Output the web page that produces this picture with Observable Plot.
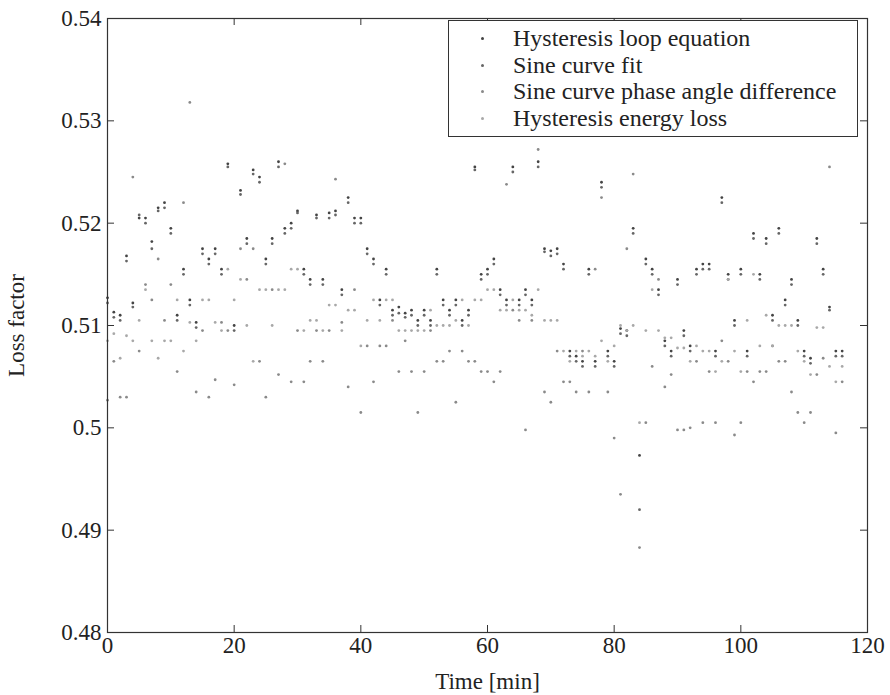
<!DOCTYPE html>
<html><head><meta charset="utf-8">
<script src="https://cdn.jsdelivr.net/npm/d3@7"></script>
<script src="https://cdn.jsdelivr.net/npm/@observablehq/plot@0.6"></script>
<style>
body{margin:0;background:#fff;}
#wrap{position:relative;width:890px;height:695px;font-family:"Times New Roman","Liberation Serif",serif;}
#legend{position:absolute;left:448px;top:20px;width:410px;height:117px;border:1px solid #333;background:#fff;box-sizing:border-box;}
.li{position:absolute;left:64px;font-size:24px;color:#222;white-space:nowrap;line-height:24px;}
.mk{position:absolute;left:32px;width:3px;height:3px;border-radius:50%;}
</style></head>
<body><div id="wrap"></div>
<script>
const minutes = d3.range(0, 117);
const seriesNames = ["Hysteresis loop equation","Sine curve fit","Sine curve phase angle difference","Hysteresis energy loss"];
const seriesColors = ["#444","#666","#8a8a8a","#a8a8a8"];
const hysteresisLoop = [.5127,.5113,.5110,.5168,.5122,.5205,.5205,.5182,.5215,.5220,
.5195,.5110,.5155,.5125,.5103,.5175,.5165,.5175,.5155,.5258,
.5100,.5232,.5185,.5252,.5245,.5165,.5185,.5260,.5195,.5200,
.5212,.5155,.5145,.5208,.5145,.5210,.5212,.5135,.5225,.5205,
.5205,.5175,.5165,.5125,.5155,.5115,.5118,.5112,.5115,.5105,
.5115,.5105,.5155,.5125,.5115,.5125,.5105,.5115,.5255,.5150,
.5155,.5165,.5135,.5125,.5255,.5125,.5135,.5125,.5260,.5175,
.5173,.5175,.5160,.5075,.5070,.5065,.5155,.5065,.5240,.5075,
.5065,.5097,.5095,.5195,.4973,.5165,.5155,.5135,.5085,.5075,
.5145,.5095,.5080,.5155,.5160,.5160,.5075,.5225,.5150,.5105,
.5155,.5075,.5190,.5150,.5185,.5110,.5195,.5125,.5145,.5105,
.5075,.5068,.5185,.5155,.5118,.5075,.5075];
const sineFit = [.5122,.5108,.5105,.5163,.5118,.5208,.5200,.5175,.5212,.5215,
.5190,.5105,.5150,.5120,.5098,.5170,.5160,.5170,.5150,.5255,
.5095,.5228,.5180,.5248,.5240,.5160,.5180,.5255,.5190,.5195,
.5210,.5150,.5140,.5205,.5140,.5205,.5208,.5130,.5220,.5200,
.5200,.5170,.5160,.5120,.5150,.5110,.5112,.5108,.5110,.5100,
.5110,.5100,.5150,.5120,.5110,.5120,.5100,.5110,.5252,.5145,
.5150,.5160,.5130,.5120,.5250,.5120,.5130,.5120,.5255,.5172,
.5168,.5170,.5155,.5070,.5065,.5060,.5150,.5060,.5235,.5070,
.5060,.5092,.5090,.5190,.4920,.5160,.5150,.5130,.5080,.5070,
.5140,.5090,.5075,.5150,.5155,.5155,.5070,.5220,.5145,.5100,
.5150,.5070,.5185,.5145,.5180,.5105,.5190,.5120,.5140,.5100,
.5070,.5063,.5180,.5150,.5115,.5070,.5070];
const phaseAngle = [.5027,.5065,.5030,.5030,.5245,.5075,.5140,.5125,.5165,.5105,
.5140,.5055,.5220,.5318,.5035,.5095,.5030,.5047,.5103,.5095,
.5042,.5175,.5145,.5175,.5065,.5030,.5135,.5052,.5258,.5045,
.5095,.5045,.5065,.5095,.5065,.5095,.5243,.5103,.5040,.5135,
.5015,.5080,.5045,.5080,.5080,.5105,.5055,.5085,.5055,.5015,
.5055,.5095,.5065,.5065,.5075,.5025,.5075,.5065,.5065,.5055,
.5055,.5045,.5055,.5238,.5115,.5105,.4998,.5105,.5272,.5035,
.5025,.5075,.5045,.5045,.5035,.5075,.5035,.5155,.5225,.5035,
.4990,.4935,.5175,.5248,.4883,.5005,.5060,.5145,.5040,.5052,
.4998,.4998,.5000,.5065,.5005,.5055,.5005,.5085,.5065,.4993,
.5005,.5055,.5045,.5055,.5055,.5080,.5065,.5065,.5035,.5015,
.5005,.5015,.5052,.5068,.5255,.4995,.5045];
const energyLoss = [.5085,.5092,.5068,.5090,.5085,.5105,.5135,.5085,.5068,.5085,
.5085,.5125,.5075,.5103,.5085,.5125,.5125,.5103,.5095,.5155,
.5125,.5145,.5100,.5065,.5135,.5135,.5100,.5135,.5135,.5155,
.5155,.5095,.5105,.5105,.5095,.5120,.5120,.5095,.5115,.5115,
.5080,.5105,.5125,.5105,.5125,.5125,.5095,.5095,.5095,.5095,
.5095,.5115,.5100,.5100,.5100,.5105,.5125,.5100,.5125,.5125,
.5135,.5135,.5115,.5115,.5125,.5115,.5115,.5110,.5135,.5105,
.5105,.5105,.5075,.5065,.5075,.5070,.5075,.5070,.5085,.5065,
.5080,.5100,.5095,.5100,.5005,.5095,.5135,.5095,.5088,.5088,
.5078,.5078,.5065,.5080,.5075,.5075,.5055,.5065,.5145,.5075,
.5055,.5105,.5150,.5080,.5110,.5080,.5100,.5100,.5100,.5075,
.5065,.5052,.5098,.5098,.5060,.5045,.5060];
const xTicks = [0,20,40,60,80,100,120];
const yTicks = [0.48,0.49,0.5,0.51,0.52,0.53,0.54];

const allSeries = [hysteresisLoop, sineFit, phaseAngle, energyLoss];
const data = [];
allSeries.forEach((vals, si) => vals.forEach((v, i) => data.push({t: minutes[i], v, s: seriesNames[si]})));

const H = 695, mT = 18, mB = 63, plotH = H - mT - mB;
const W = 890, mL = 107, mR = 23, plotW = W - mL - mR;
const tickLen = 7;
const fmtY = d => String(+d.toFixed(2));

const chart = Plot.plot({
  width: W, height: H,
  marginLeft: mL, marginRight: mR, marginTop: mT, marginBottom: mB,
  style: {fontFamily: "'Times New Roman', 'Liberation Serif', serif", fontSize: "22px", color: "#222", background: "#fff"},
  x: {domain: [0, 120]},
  y: {domain: [0.48, 0.54]},
  color: {domain: seriesNames, range: seriesColors},
  marks: [
    Plot.dot(data, {x: "t", y: "v", fill: "s", r: 1.4, stroke: null}),
    Plot.frame({stroke: "#333", strokeWidth: 1.2}),
    Plot.tickX(xTicks, {x: d => d, insetTop: plotH - tickLen, stroke: "#333"}),
    Plot.tickX(xTicks, {x: d => d, insetBottom: plotH - tickLen, stroke: "#333"}),
    Plot.tickY(yTicks, {y: d => d, insetRight: plotW - tickLen, stroke: "#333"}),
    Plot.tickY(yTicks, {y: d => d, insetLeft: plotW - tickLen, stroke: "#333"}),
    Plot.axisX(xTicks, {tickSize: 0, tickPadding: 4, fontSize: 23, label: "Time [min]", labelAnchor: "center", labelArrow: "none", labelOffset: 56}),
    Plot.axisY(yTicks, {tickSize: 0, tickPadding: 6, tickFormat: fmtY, fontSize: 23, label: "Loss factor", labelAnchor: "center", labelArrow: "none", labelOffset: 100})
  ]
});
const wrap = document.getElementById("wrap");
wrap.appendChild(chart);
const lg = document.createElement("div");
lg.id = "legend";
seriesNames.forEach((n, i) => {
  const top = 5 + i * 26.5;
  const t = document.createElement("div");
  t.className = "li"; t.style.top = top + "px"; t.textContent = n;
  const m = document.createElement("div");
  m.className = "mk"; m.style.top = (top + 11) + "px"; m.style.background = seriesColors[i];
  lg.appendChild(m); lg.appendChild(t);
});
wrap.appendChild(lg);
</script></body></html>
